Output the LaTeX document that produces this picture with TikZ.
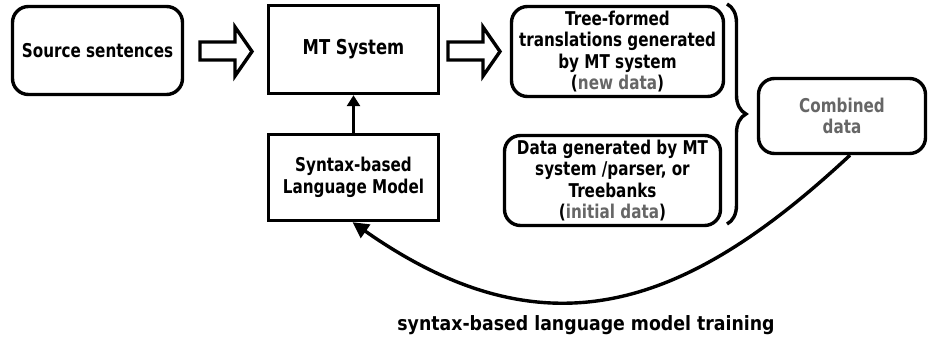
\documentclass[tikz,border=0pt]{standalone}
\usepackage{fontspec}
\setmainfont{DejaVu Sans}[FakeStretch=0.8]
\newfontfamily\labelfont{DejaVu Sans}[FakeStretch=0.88]
\usetikzlibrary{arrows.meta,decorations.pathreplacing,calc}
\definecolor{txtgray}{RGB}{102,102,102}
\begin{document}
\begin{tikzpicture}[x=1pt,y=-1pt,
  thick3/.style={line width=3.4pt},
  sqbox/.style={draw,thick3,align=center,inner sep=0pt,
    font=\bfseries\fontsize{19}{21.5}\selectfont},
  rbox/.style={sqbox,rounded corners=16pt},
  hollow/.style={draw,thick3,line join=miter}]
\useasboundingbox (0,0) rectangle (929,339);

\node[rbox,minimum width=170,minimum height=88] (src) at (97.5,50.5) {Source sentences};
\node[sqbox,minimum width=170,minimum height=88,font=\bfseries\fontsize{20.5}{22}\selectfont] (mt) at (353.5,49.5) {MT System};
\node[sqbox,minimum width=170,minimum height=86] (lm) at (353.5,177.5) {Syntax-based\\Language Model};
\node[rbox,minimum width=212,minimum height=90] (tree) at (617.5,51.5)
  {Tree-formed\\translations generated\\by MT system\\({\color{txtgray}new data})};
\node[rbox,minimum width=216,minimum height=90] (data) at (612.5,180.5)
  {Data generated by MT\\system /parser, or\\Treebanks\\({\color{txtgray}initial data})};
\node[rbox,minimum width=167,minimum height=75,text=txtgray] (comb) at (842,116) {Combined\\data};

% hollow block arrows
\draw[hollow] (200,42) -- (235,42) -- (235,27) -- (252,51.5) -- (235,76) -- (235,60) -- (200,60) -- cycle;
\draw[hollow] (448,42) -- (483,42) -- (483,27) -- (500,51.5) -- (483,76) -- (483,60) -- (448,60) -- cycle;

% LM -> MT
\draw[thick3,-{Triangle[width=13pt,length=11pt]}] (lm.north) -- (mt.south);

% brace
\draw[thick3,decorate,decoration={brace,amplitude=19pt}] (727,4) -- (727,224);

% training loop
\coordinate (cs) at ($(comb.south)+(8,0)$);
\draw[thick3,-{Triangle[width=16pt,length=16pt]}] (cs) .. controls (689,305) and (549,360) .. ($(lm.south)+(-1,0)$);

\node[font=\labelfont\bfseries\fontsize{19.7}{22}\selectfont] (lbl) at (586,325) {syntax-based language model training};
\end{tikzpicture}
\end{document}
